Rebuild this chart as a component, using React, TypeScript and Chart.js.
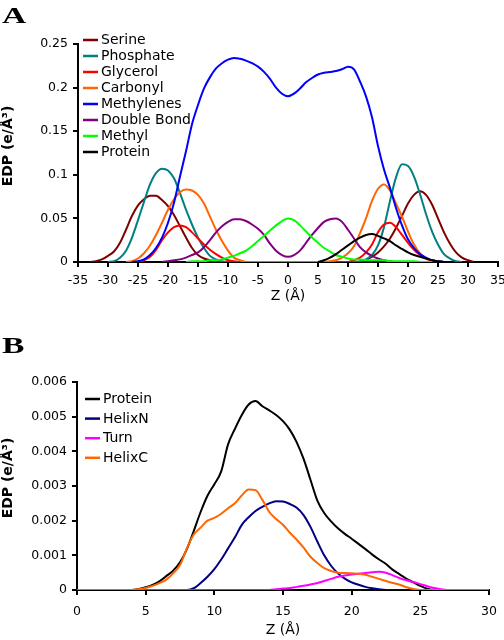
import React, { useEffect, useRef } from 'react';
import { Chart, registerables } from 'chart.js';

Chart.register(...registerables);

// ---------- Panel A data (z in Å, EDP in e/Å³) ----------
const zA = [
  -35, -34, -33, -32, -31, -30, -29, -28, -27, -26,
  -25, -24, -23, -22, -21, -20, -19, -18, -17, -16,
  -15, -14, -13, -12, -11, -10, -9, -8, -7, -6,
  -5, -4, -3, -2, -1, 0, 1, 2, 3, 4,
  5, 6, 7, 8, 9, 10, 11, 12, 13, 14,
  15, 16, 17, 18, 19, 20, 21, 22, 23, 24,
  25, 26, 27, 28, 29, 30, 31, 32, 33, 34,
  35,
];

const serine = [
  null, null, 0, 0.001, 0.003, 0.007, 0.012, 0.022, 0.037, 0.053,
  0.065, 0.072, 0.076, 0.076, 0.071, 0.064, 0.054, 0.041, 0.028, 0.016,
  0.008, 0.004, 0.002, 0.001, 0, 0, 0, 0, 0, 0,
  0, 0, 0, 0, 0, 0, 0, 0, 0, 0,
  0, 0, 0, 0, 0, 0, 0, 0, 0.002, 0.006,
  0.011, 0.018, 0.027, 0.039, 0.053, 0.067, 0.077, 0.081, 0.077, 0.066,
  0.05, 0.034, 0.021, 0.011, 0.005, 0.002, 0, null, null, null,
  null,
];

const phosphate = [
  null, null, null, null, null, 0, 0.001, 0.005, 0.013, 0.028,
  0.048, 0.069, 0.089, 0.102, 0.107, 0.105, 0.096, 0.079, 0.06, 0.043,
  0.028, 0.016, 0.007, 0.003, 0.001, 0, 0, 0, 0, 0,
  0, 0, 0, 0, 0, 0, 0, 0, 0, 0,
  0, 0, 0, 0, 0, 0, 0, 0.001, 0.003, 0.008,
  0.019, 0.04, 0.07, 0.097, 0.112, 0.11, 0.098, 0.078, 0.055, 0.035,
  0.02, 0.009, 0.004, 0.001, 0, null, null, null, null, null,
  null,
];

const glycerol = [
  null, null, null, null, null, null, null, null, null, null,
  0, 0.002, 0.006, 0.014, 0.025, 0.034, 0.04, 0.042, 0.04, 0.034,
  0.027, 0.02, 0.014, 0.009, 0.005, 0.002, 0.001, 0, 0, 0,
  0, 0, 0, 0, 0, 0, 0, 0, 0, 0,
  0, 0, 0, 0, 0, 0, 0.002, 0.005, 0.011, 0.02,
  0.034, 0.043, 0.045, 0.04, 0.031, 0.022, 0.014, 0.008, 0.004, 0.002,
  0, null, null, null, null, null, null, null, null, null,
  null,
];

const carbonyl = [
  null, null, null, null, null, null, null, null, 0, 0.001,
  0.004, 0.01, 0.019, 0.031, 0.045, 0.06, 0.072, 0.08, 0.083, 0.082,
  0.077, 0.067, 0.052, 0.037, 0.024, 0.013, 0.005, 0.002, 0, 0,
  0, 0, 0, 0, 0, 0, 0, 0, 0, 0,
  0, 0, 0.001, 0.002, 0.005, 0.01, 0.018, 0.033, 0.05, 0.07,
  0.084, 0.089, 0.082, 0.067, 0.052, 0.035, 0.02, 0.01, 0.004, 0.001,
  0, null, null, null, null, null, null, null, null, null,
  null,
];

const methylenes = [
  null, null, null, null, null, null, null, null, null, 0,
  0.001, 0.003, 0.008, 0.016, 0.028, 0.045, 0.068, 0.098, 0.127, 0.158,
  0.18, 0.199, 0.212, 0.222, 0.228, 0.232, 0.234, 0.233, 0.231, 0.228,
  0.224, 0.218, 0.21, 0.2, 0.193, 0.19, 0.193, 0.199, 0.206, 0.211,
  0.215, 0.217, 0.218, 0.219, 0.221, 0.224, 0.221, 0.207, 0.19, 0.166,
  0.133, 0.106, 0.085, 0.062, 0.042, 0.026, 0.016, 0.009, 0.005, 0.002,
  0.001, 0, null, null, null, null, null, null, null, null,
  null,
];

const doubleBond = [
  null, null, null, null, null, null, null, null, null, null,
  null, null, null, null, 0, 0.001, 0.002, 0.003, 0.005, 0.008,
  0.011, 0.017, 0.025, 0.034, 0.041, 0.046, 0.049, 0.049, 0.047, 0.043,
  0.038, 0.031, 0.021, 0.013, 0.008, 0.006, 0.008, 0.013, 0.022, 0.031,
  0.039, 0.046, 0.049, 0.05, 0.046, 0.037, 0.027, 0.017, 0.011, 0.007,
  0.004, 0.002, 0.001, 0, 0, 0, null, null, null, null,
  null, null, null, null, null, null, null, null, null, null,
  null,
];

const methyl = [
  null, null, null, null, null, null, null, null, null, null,
  null, null, null, null, null, null, null, null, 0, 0.001,
  0.001, 0.001, 0.002, 0.002, 0.003, 0.005, 0.007, 0.01, 0.013, 0.018,
  0.024, 0.03, 0.036, 0.042, 0.047, 0.05, 0.048, 0.042, 0.035, 0.028,
  0.022, 0.016, 0.012, 0.008, 0.006, 0.004, 0.003, 0.003, 0.002, 0.002,
  0.002, 0.002, 0.001, 0.001, 0.001, 0.001, 0.001, 0, 0, 0,
  null, null, null, null, null, null, null, null, null, null,
  null,
];

const proteinA = [
  null, null, null, null, null, null, null, null, null, null,
  null, null, null, null, null, null, null, null, null, null,
  null, null, null, null, null, null, null, null, null, null,
  null, null, null, null, null, null, null, null, null, null,
  0, 0.002, 0.005, 0.009, 0.014, 0.019, 0.024, 0.028, 0.031, 0.032,
  0.03, 0.027, 0.024, 0.019, 0.015, 0.011, 0.008, 0.006, 0.004, 0.002,
  0.001, 0, null, null, null, null, null, null, null, null,
  null,
];

const namesA = ['Serine', 'Phosphate', 'Glycerol', 'Carbonyl', 'Methylenes', 'Double Bond', 'Methyl', 'Protein'];
const colorsA = ['#800000', '#008080', '#FF0000', '#FF6600', '#0000FF', '#800080', '#00FF00', '#000000'];
const seriesA = [serine, phosphate, glycerol, carbonyl, methylenes, doubleBond, methyl, proteinA];
const yTicksA = { min: 0, max: 0.25, step: 0.05 };
const xTicksA = { min: -35, max: 35, step: 5 };

// ---------- Panel B data ----------
const zB = [
  0, 0.5, 1, 1.5, 2, 2.5, 3, 3.5, 4, 4.5,
  5, 5.5, 6, 6.5, 7, 7.5, 8, 8.5, 9, 9.5,
  10, 10.5, 11, 11.5, 12, 12.5, 13, 13.5, 14, 14.5,
  15, 15.5, 16, 16.5, 17, 17.5, 18, 18.5, 19, 19.5,
  20, 20.5, 21, 21.5, 22, 22.5, 23, 23.5, 24, 24.5,
  25, 25.5, 26, 26.5, 27, 27.5, 28, 28.5, 29, 29.5,
  30,
];

const proteinB = [
  0, 0, 0, 0, 0, 0, 0, 0, 0, 0.00003,
  0.00008, 0.00015, 0.00025, 0.0004, 0.00056, 0.0008, 0.00118, 0.0017, 0.00225, 0.00272,
  0.00305, 0.00342, 0.0042, 0.00465, 0.00505, 0.00535, 0.00545, 0.0053, 0.00518, 0.00505,
  0.00487, 0.00462, 0.00426, 0.00378, 0.00318, 0.00258, 0.00222, 0.00198, 0.00178, 0.00162,
  0.00148, 0.00133, 0.00118, 0.00102, 0.00088, 0.00075, 0.00058, 0.00045, 0.00032, 0.00022,
  0.00012, 0.00004, 0, 0, 0, 0, 0, 0, 0, 0,
  0,
];

const helixN = [
  0, 0, 0, 0, 0, 0, 0, 0, 0, 0,
  0, 0, 0, 0, 0, 0, 0, 0.00005, 0.0002, 0.00038,
  0.0006, 0.00088, 0.0012, 0.00152, 0.00188, 0.0021, 0.00228, 0.0024, 0.0025, 0.00256,
  0.00255, 0.00248, 0.00237, 0.00216, 0.00182, 0.0014, 0.001, 0.0007, 0.00048, 0.00033,
  0.00022, 0.00015, 0.00009, 0.00005, 0.00002, 0, 0, 0, 0, 0,
  0, 0, 0, 0, 0, 0, 0, 0, 0, 0,
  0,
];

const turn = [
  0, 0, 0, 0, 0, 0, 0, 0, 0, 0,
  0, 0, 0, 0, 0, 0, 0, 0, 0, 0,
  0, 0, 0, 0, 0, 0, 0, 0, 0, 0.00002,
  0.00004, 0.00006, 0.00009, 0.00012, 0.00016, 0.0002, 0.00026, 0.00032, 0.00038, 0.00042,
  0.00045, 0.00047, 0.00049, 0.00051, 0.00053, 0.0005, 0.00042, 0.00034, 0.00028, 0.00023,
  0.00017, 0.00011, 0.00006, 0.00002, 0, 0, 0, 0, 0, 0,
  0,
];

const helixC = [
  0, 0, 0, 0, 0, 0, 0, 0, 0, 0.00002,
  0.00006, 0.00012, 0.0002, 0.0003, 0.00048, 0.00072, 0.0012, 0.0016, 0.0018, 0.002,
  0.00208, 0.0022, 0.00236, 0.0025, 0.00273, 0.0029, 0.00288, 0.0026, 0.00225, 0.00205,
  0.00188, 0.00165, 0.00145, 0.00122, 0.00096, 0.00078, 0.00063, 0.00055, 0.0005, 0.00049,
  0.00048, 0.00047, 0.00044, 0.00038, 0.00032, 0.00026, 0.0002, 0.00015, 0.00008, 0.00003,
  0, 0, 0, 0, 0, 0, 0, 0, 0, 0,
  0,
];

const namesB = ['Protein', 'HelixN', 'Turn', 'HelixC'];
const colorsB = ['#000000', '#000080', '#FF00FF', '#FF6600'];
const seriesB = [proteinB, helixN, turn, helixC];
const yTicksB = { min: 0, max: 0.006, step: 0.001 };
const xTicksB = { min: 0, max: 30, step: 5 };

const TICK_FONT = 'DejaVu Sans';

type DecorCfg = {
  letter: string;
  letterBaseline: number;
  names: string[];
  colors: string[];
  legendTopOffset: number;
  legendDy: number;
  lineX0: number;
  lineX1: number;
  textX: number;
  xTitleDy: number;
  yTitleY: number;
};

function makeDecor(cfg: DecorCfg) {
  return {
    id: 'decor',
    afterDraw(chart: any) {
      const { ctx, chartArea } = chart;
      const { left, right, top, bottom } = chartArea;
      ctx.save();
      ctx.fillStyle = '#000';
      // panel letter
      ctx.save();
      ctx.font = 'bold 24px "Liberation Serif"';
      ctx.textAlign = 'left';
      ctx.textBaseline = 'alphabetic';
      ctx.translate(2, cfg.letterBaseline);
      ctx.scale(1.4, 1);
      ctx.fillText(cfg.letter, 0, 0);
      ctx.restore();
      // legend
      ctx.font = '14px "DejaVu Sans"';
      ctx.textAlign = 'left';
      ctx.textBaseline = 'middle';
      cfg.names.forEach((name, i) => {
        const y = top + cfg.legendTopOffset + i * cfg.legendDy;
        ctx.strokeStyle = cfg.colors[i];
        ctx.lineWidth = 2.5;
        ctx.beginPath();
        ctx.moveTo(left + cfg.lineX0, y);
        ctx.lineTo(left + cfg.lineX1, y);
        ctx.stroke();
        ctx.fillStyle = '#000';
        ctx.fillText(name, left + cfg.textX, y + 0.5);
      });
      // x title
      ctx.font = '14px "DejaVu Sans"';
      ctx.textAlign = 'center';
      ctx.textBaseline = 'middle';
      ctx.fillText('Z (Å)', (left + right) / 2, bottom + cfg.xTitleDy);
      // y title
      ctx.save();
      ctx.translate(8, cfg.yTitleY);
      ctx.rotate(-Math.PI / 2);
      ctx.font = 'bold 14px "DejaVu Sans"';
      ctx.textAlign = 'center';
      ctx.textBaseline = 'middle';
      ctx.fillText('EDP (e/Å³)', 0, 0);
      ctx.restore();
      ctx.restore();
    },
  };
}

function buildConfig(opts: {
  z: number[];
  series: (number | null)[][];
  colors: string[];
  xT: { min: number; max: number; step: number };
  yT: { min: number; max: number; step: number };
  yAxisWidth: number;
  xAxisHeight: number;
  padTop: number;
  padRight: number;
  xTickPad: number;
  decor: DecorCfg;
}) {
  const n = opts.series.length;
  return {
    type: 'line' as const,
    data: {
      datasets: opts.series.map((vals, i) => ({
        data: opts.z.map((zv, j) => ({ x: zv, y: vals[j] })),
        borderColor: opts.colors[i],
        backgroundColor: opts.colors[i],
        borderWidth: 2,
        pointRadius: 0,
        fill: false,
        cubicInterpolationMode: 'monotone' as const,
        spanGaps: false,
        order: n - i,
      })),
    },
    options: {
      responsive: false,
      animation: false as const,
      devicePixelRatio: 1,
      events: [] as any[],
      layout: { padding: { top: opts.padTop, right: opts.padRight, left: 0, bottom: 0 } },
      plugins: { legend: { display: false }, tooltip: { enabled: false }, title: { display: false } },
      scales: {
        x: {
          type: 'linear' as const,
          min: opts.xT.min,
          max: opts.xT.max,
          ticks: {
            stepSize: opts.xT.step,
            color: '#000',
            font: { family: TICK_FONT, size: 12.5 },
            padding: opts.xTickPad,
            maxRotation: 0,
            autoSkip: false,
            callback: (v: any) => String(Math.round(Number(v))),
          },
          grid: { display: true, drawOnChartArea: false, drawTicks: true, tickLength: 5, color: '#000', lineWidth: 2 },
          border: { display: true, color: '#000', width: 2 },
          afterFit: (s: any) => {
            s.height = opts.xAxisHeight;
            s.paddingLeft = 0;
            s.paddingRight = 0;
          },
        },
        y: {
          type: 'linear' as const,
          min: opts.yT.min,
          max: opts.yT.max,
          ticks: {
            stepSize: opts.yT.step,
            color: '#000',
            font: { family: TICK_FONT, size: 12.5 },
            padding: 5,
            callback: (v: any) => String(parseFloat(Number(v).toFixed(4))),
          },
          grid: { display: true, drawOnChartArea: false, drawTicks: true, tickLength: 5, color: '#000', lineWidth: 2 },
          border: { display: true, color: '#000', width: 2 },
          afterFit: (s: any) => {
            s.width = opts.yAxisWidth;
            s.paddingTop = 0;
            s.paddingBottom = 0;
          },
        },
      },
    },
    plugins: [makeDecor(opts.decor)],
  };
}

export default function App() {
  const refA = useRef<HTMLCanvasElement>(null);
  const refB = useRef<HTMLCanvasElement>(null);

  useEffect(() => {
    const cfgA = buildConfig({
      z: zA,
      series: seriesA,
      colors: colorsA,
      xT: xTicksA,
      yT: yTicksA,
      yAxisWidth: 78,
      xAxisHeight: 48,
      padTop: 44,
      padRight: 6,
      xTickPad: 6,
      decor: {
        letter: 'A',
        letterBaseline: 23,
        names: namesA,
        colors: colorsA,
        legendTopOffset: -4,
        legendDy: 16,
        lineX0: 5,
        lineX1: 20,
        textX: 23,
        xTitleDy: 34,
        yTitleY: 146,
      },
    });
    const cfgB = buildConfig({
      z: zB,
      series: seriesB,
      colors: colorsB,
      xT: xTicksB,
      yT: yTicksB,
      yAxisWidth: 77,
      xAxisHeight: 50,
      padTop: 62,
      padRight: 15,
      xTickPad: 9,
      decor: {
        letter: 'B',
        letterBaseline: 33,
        names: namesB,
        colors: colorsB,
        legendTopOffset: 17,
        legendDy: 19.6,
        lineX0: 8,
        lineX1: 23,
        textX: 26,
        xTitleDy: 40,
        yTitleY: 158,
      },
    });
    const a = new Chart(refA.current as HTMLCanvasElement, cfgA as any);
    const b = new Chart(refB.current as HTMLCanvasElement, cfgB as any);
    return () => {
      a.destroy();
      b.destroy();
    };
  }, []);

  return (
    <div style={{ position: 'absolute', left: 0, top: 0, width: 504, height: 640, background: '#fff' }}>
      <canvas ref={refA} width={504} height={310} style={{ position: 'absolute', left: 0, top: 0 }} />
      <canvas ref={refB} width={504} height={320} style={{ position: 'absolute', left: 0, top: 320 }} />
    </div>
  );
}
